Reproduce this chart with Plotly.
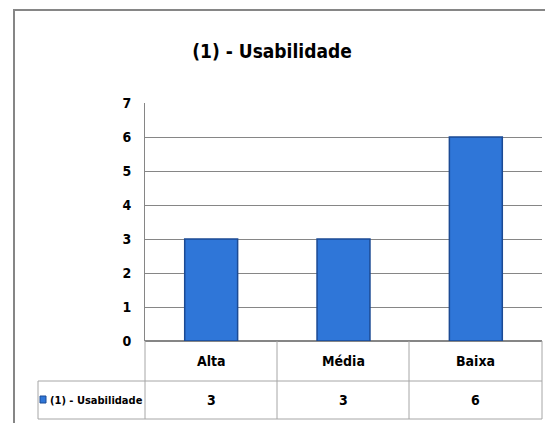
import plotly.graph_objects as go

categories = ["Alta", "Média", "Baixa"]
values = [3, 3, 6]
series_name = "(1) - Usabilidade"
title_text = "(1) - Usabilidade"
y_ticks = [0, 1, 2, 3, 4, 5, 6, 7]

W, H = 545, 423
L, R, T, B = 145, 3, 103, 82
PW = W - L - R
PH = H - T - B

def px(x):
    return (x - L) / PW

def py(y):
    return (H - B - y) / PH

FONT = "DejaVu Sans Condensed, Liberation Sans Narrow, sans-serif"

fig = go.Figure()
fig.add_trace(go.Bar(
    x=categories, y=values, name=series_name,
    width=0.4,
    marker=dict(color="#2f76d8", line=dict(color="#1b4a94", width=1.5)),
    showlegend=False,
))

shapes = []
grid = "#868686"
tbl = "#a6a6a6"
# chart border
shapes.append(dict(type="rect", xref="paper", yref="paper",
                   x0=px(14), x1=px(W + 5), y0=py(H + 5), y1=py(10),
                   line=dict(color="#868686", width=2), layer="below"))
# table lines
col_edges = [145, 277, 409, 542]
for xe in col_edges:
    shapes.append(dict(type="line", xref="paper", yref="paper",
                       x0=px(xe), x1=px(xe), y0=py(341), y1=py(419),
                       line=dict(color=tbl, width=1)))
shapes.append(dict(type="line", xref="paper", yref="paper",
                   x0=px(38), x1=px(38), y0=py(381), y1=py(419),
                   line=dict(color=tbl, width=1)))
for yy in [381, 419]:
    shapes.append(dict(type="line", xref="paper", yref="paper",
                       x0=px(38), x1=px(542), y0=py(yy), y1=py(yy),
                       line=dict(color=tbl, width=1)))
# legend key
shapes.append(dict(type="rect", xref="paper", yref="paper",
                   x0=px(40), x1=px(46), y0=py(403), y1=py(396),
                   fillcolor="#2f76d8", line=dict(color="#1b4a94", width=1)))

annotations = []
for i, (c, v) in enumerate(zip(categories, values)):
    annotations.append(dict(x=c, xref="x", y=py(361), yref="paper", text=c,
                            showarrow=False, font=dict(family=FONT, size=14, color="#000", weight="bold"),
                            xanchor="center", yanchor="middle"))
    annotations.append(dict(x=c, xref="x", y=py(400), yref="paper", text=str(v),
                            showarrow=False, font=dict(family=FONT, size=14, color="#000", weight="bold"),
                            xanchor="center", yanchor="middle"))
annotations.append(dict(x=px(48), xref="paper", y=py(400), yref="paper", text=series_name,
                        showarrow=False, font=dict(family=FONT, size=11, color="#000", weight="bold"),
                        xanchor="left", yanchor="middle"))

fig.update_layout(
    width=W, height=H,
    margin=dict(l=L, r=R, t=T, b=B),
    paper_bgcolor="white", plot_bgcolor="white",
    title=dict(text=title_text, x=(272 / W), xanchor="center", y=1 - 51 / H, yanchor="middle",
               font=dict(family=FONT, size=19, color="#000", weight="bold")),
    shapes=shapes, annotations=annotations,
    xaxis=dict(showticklabels=False, showgrid=False, showline=False, zeroline=False,
               range=[-0.5, 2.5]),
    yaxis=dict(range=[0, 7], tickvals=y_ticks, showgrid=True, gridcolor=grid, gridwidth=1,
               showline=True, linecolor=grid, linewidth=1, zeroline=True, zerolinecolor=grid,
               ticklabelstandoff=10,
               tickfont=dict(family=FONT, size=14, color="#000", weight="bold")),
    bargap=0.6,
)

fig.write_html("out.html")
